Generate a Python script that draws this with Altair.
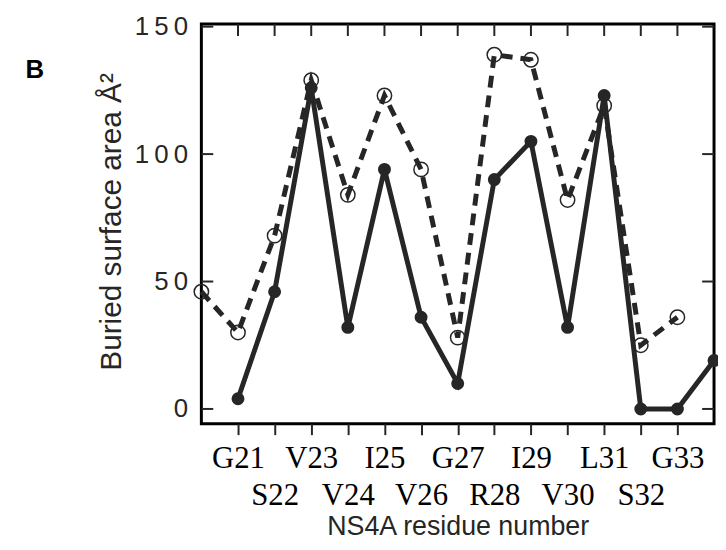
import altair as alt
import pandas as pd

residues = ['G21', 'S22', 'V23', 'V24', 'I25', 'V26', 'G27', 'R28', 'I29', 'V30', 'L31', 'S32', 'G33']
residue_nums = list(range(21, 34))

dashed_x = [20, 21, 22, 23, 24, 25, 26, 27, 28, 29, 30, 31, 32, 33]
dashed_y = [46, 30, 68, 129, 84, 123, 94, 28, 139, 137, 82, 119, 25, 36]

solid_x = [21, 22, 23, 24, 25, 26, 27, 28, 29, 30, 31, 32, 33, 34]
solid_y = [4, 46, 126, 32, 94, 36, 10, 90, 105, 32, 123, 0, 0, 19]

y_ticks = [0, 50, 100, 150]

dashed = pd.DataFrame({'x': dashed_x, 'y': dashed_y})
solid = pd.DataFrame({'x': solid_x, 'y': solid_y})
yt = pd.DataFrame({'y': y_ticks})
xt = pd.DataFrame({'x': residue_nums})

COL = '#262626'
xscale = alt.Scale(domain=[20, 34], nice=False, zero=False)
yscale = alt.Scale(domain=[-5.8, 151], nice=False, zero=False)

names_js = "[" + ",".join("'%s'" % r for r in residues) + "]"
label_expr = ("datum.value % 2 == 1 ? {n}[datum.value-21] : ['', {n}[datum.value-21]]").format(n=names_js)

x_axis = alt.Axis(
    values=residue_nums, labelExpr=label_expr, title='NS4A residue number',
    labelFont='Liberation Serif', labelFontSize=31, labelLineHeight=37,
    labelColor='black', labelPadding=9, labelOverlap=False, labelFlush=False,
    labelBound=False, tickSize=11, tickWidth=2, tickColor=COL, domain=False,
    grid=False, titleFont='Liberation Sans', titleFontSize=27,
    titleFontWeight='normal', titleColor=COL, titleY=112,
    titleBaseline='alphabetic'
)
y_axis = alt.Axis(
    values=y_ticks, title='Buried surface area Å²',
    labelExpr="join(split(datum.label, ''), '\u2009')",
    labelFont='Liberation Sans', labelFontSize=26, labelColor=COL,
    labelPadding=14, tickSize=0, domain=False, grid=False,
    titleFont='Liberation Sans', titleFontSize=30, titleFontWeight='normal',
    titleColor=COL, titleX=-91, titleY=199, titleAngle=270,
    titleBaseline='middle', titleAlign='center'
)

base_d = alt.Chart(dashed)
base_s = alt.Chart(solid)

dash_line = base_d.mark_line(color=COL, strokeWidth=5, strokeDash=[12, 8]).encode(
    x=alt.X('x:Q', scale=xscale, axis=x_axis),
    y=alt.Y('y:Q', scale=yscale, axis=y_axis),
)
dash_pts = base_d.mark_point(shape='circle', filled=False, color=COL, size=210,
                             strokeWidth=1.5, opacity=1).encode(
    x=alt.X('x:Q', scale=xscale), y=alt.Y('y:Q', scale=yscale))
solid_line = base_s.mark_line(color=COL, strokeWidth=5).encode(
    x=alt.X('x:Q', scale=xscale), y=alt.Y('y:Q', scale=yscale))
solid_pts = base_s.mark_point(shape='circle', filled=True, color=COL, size=170,
                              opacity=1).encode(
    x=alt.X('x:Q', scale=xscale), y=alt.Y('y:Q', scale=yscale))

left_ticks = alt.Chart(yt).mark_rule(color=COL, strokeWidth=2).encode(
    x=alt.value(0), x2=alt.value(12), y=alt.Y('y:Q', scale=yscale))
right_ticks = alt.Chart(yt).mark_rule(color=COL, strokeWidth=2).encode(
    x=alt.value(505), x2=alt.value(517), y=alt.Y('y:Q', scale=yscale))
top_ticks = alt.Chart(xt).mark_rule(color=COL, strokeWidth=2).encode(
    x=alt.X('x:Q', scale=xscale), y=alt.value(0), y2=alt.value(12))

label_b = alt.Chart(pd.DataFrame({'t': ['B']})).mark_text(
    font='Liberation Sans', fontSize=26, fontWeight='bold', color='black',
    align='center', baseline='alphabetic').encode(
    text='t:N', x=alt.value(-168), y=alt.value(54))

chart = alt.layer(
    dash_line, solid_line, dash_pts, solid_pts,
    left_ticks, right_ticks, top_ticks, label_b
).properties(
    width=517, height=403,
    padding={'left': 195, 'top': 14, 'right': 4, 'bottom': 115},
    autosize=alt.AutoSizeParams(type='none'),
    background='white',
).configure_view(
    stroke='black', strokeWidth=3
)

chart.save("out.html", embed_options={"renderer": "svg", "actions": False})
